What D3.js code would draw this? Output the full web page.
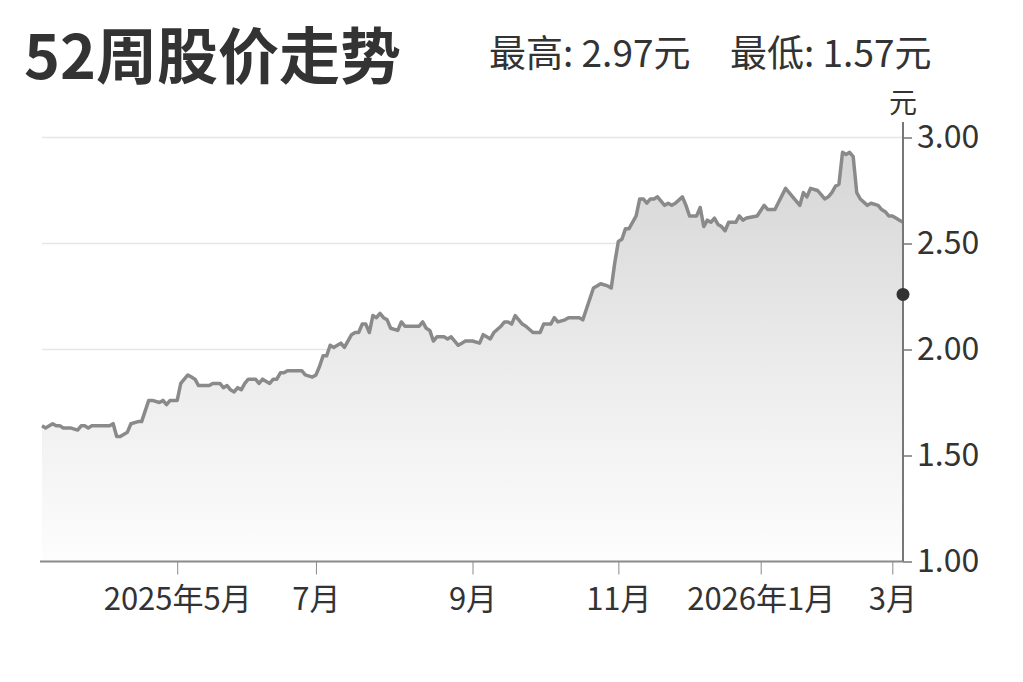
<!DOCTYPE html>
<html>
<head>
<meta charset="utf-8">
<script src="https://cdn.jsdelivr.net/npm/d3@7/dist/d3.min.js"></script>
<style>
  body { margin: 0; background: #fff; }
  svg { display: block; font-family: "Noto Sans CJK SC", "Noto Sans", sans-serif; }
</style>
</head>
<body>
<div class="chart"></div>
<script>
// trading day index (0 = first day of the 52 week window) and close price
var tradingDay = [0, 1, 3, 4, 5, 6, 8, 10, 11, 12, 13, 14, 19, 20, 21, 22, 24, 25, 27, 28,
  30, 31, 33, 34, 35, 36, 38, 39, 41, 42, 43, 44, 45, 47, 48, 50, 51, 52, 53, 54,
  55, 56, 57, 58, 60, 61, 62, 64, 65, 66, 67, 68, 69, 73, 74, 76, 77, 78, 79, 80,
  81, 82, 83, 84, 85, 87, 88, 89, 90, 91, 92, 93, 94, 95, 96, 97, 98, 100, 101, 102,
  106, 107, 108, 109, 110, 111, 113, 114, 115, 117, 118, 119, 120, 121, 123, 124, 125, 126, 127, 129,
  130, 131, 132, 133, 135, 136, 138, 140, 141, 143, 144, 145, 147, 148, 151, 152, 153, 155, 156, 157,
  159, 160, 161, 162, 163, 164, 165, 167, 168, 169, 170, 171, 172, 173, 174, 175, 176, 177, 178, 180,
  181, 182, 184, 185, 186, 187, 188, 189, 190, 191, 192, 193, 195, 196, 197, 198, 201, 203, 204, 206,
  209, 210, 211, 213, 214, 215, 216, 218, 219, 220, 221, 222, 223, 224, 225, 226, 227, 228, 229, 230,
  232, 233, 235, 236, 237, 238, 239, 240, 241, 242];

var closePrice = [1.64, 1.63, 1.65, 1.64, 1.64, 1.63, 1.63, 1.62, 1.64, 1.64, 1.63, 1.64, 1.64, 1.65, 1.59, 1.59, 1.61, 1.65, 1.66, 1.66,
  1.76, 1.76, 1.75, 1.76, 1.74, 1.76, 1.76, 1.84, 1.88, 1.87, 1.86, 1.83, 1.83, 1.83, 1.84, 1.84, 1.82, 1.83, 1.81, 1.80,
  1.82, 1.81, 1.84, 1.86, 1.86, 1.84, 1.86, 1.84, 1.86, 1.86, 1.89, 1.89, 1.90, 1.90, 1.88, 1.87, 1.88, 1.92, 1.97, 1.97,
  2.02, 2.01, 2.02, 2.03, 2.01, 2.07, 2.08, 2.08, 2.12, 2.12, 2.08, 2.16, 2.15, 2.17, 2.15, 2.14, 2.10, 2.09, 2.13, 2.11,
  2.11, 2.13, 2.10, 2.09, 2.04, 2.06, 2.06, 2.05, 2.06, 2.02, 2.03, 2.04, 2.04, 2.04, 2.03, 2.07, 2.06, 2.05, 2.08, 2.11,
  2.13, 2.13, 2.12, 2.16, 2.12, 2.11, 2.08, 2.08, 2.12, 2.12, 2.15, 2.13, 2.14, 2.15, 2.15, 2.14, 2.19, 2.29, 2.30, 2.31,
  2.30, 2.29, 2.41, 2.51, 2.52, 2.57, 2.57, 2.63, 2.71, 2.71, 2.69, 2.71, 2.71, 2.72, 2.70, 2.68, 2.69, 2.68, 2.69, 2.72,
  2.68, 2.63, 2.63, 2.67, 2.58, 2.61, 2.60, 2.62, 2.59, 2.58, 2.56, 2.60, 2.60, 2.63, 2.61, 2.62, 2.63, 2.68, 2.66, 2.66,
  2.76, 2.74, 2.72, 2.68, 2.74, 2.72, 2.76, 2.75, 2.73, 2.71, 2.72, 2.74, 2.77, 2.78, 2.93, 2.92, 2.93, 2.91, 2.74, 2.71,
  2.68, 2.69, 2.68, 2.66, 2.65, 2.63, 2.63, 2.62, 2.61, 2.60];

// month ticks on the trading day axis
var tickDays = [38, 77, 121, 162, 202, 239];
var tickLabels = ["2025年5月", "7月", "9月", "11月", "2026年1月", "3月"];

var priceTicks = [1.00, 1.50, 2.00, 2.50, 3.00];
var markerPrice = 2.26;

var titleText = "52周股价走势";
var highText = "最高: 2.97元";
var lowText = "最低: 1.57元";
var unitText = "元";

/********************************************/
var svgWidth = 1023;
var svgHeight = 682;

var svg = d3.select(".chart")
  .append("svg")
  .attr("width", svgWidth)
  .attr("height", svgHeight);

var data = tradingDay.map(function (d, i) {
  return { day: d, price: closePrice[i] };
});

var xScale = d3.scaleLinear()
  .domain([0, 242])
  .range([42, 903]);

var yScale = d3.scaleLinear()
  .domain([1, 3])
  .range([561.5, 137.5]);

/*************GRADIENT FILL******************/
var defs = svg.append("defs");
var grad = defs.append("linearGradient")
  .attr("id", "areaFill")
  .attr("gradientUnits", "userSpaceOnUse")
  .attr("x1", 0).attr("x2", 0)
  .attr("y1", yScale(3)).attr("y2", yScale(1));
grad.append("stop").attr("offset", "0%").attr("stop-color", "#d4d4d4");
grad.append("stop").attr("offset", "55%").attr("stop-color", "#ececec");
grad.append("stop").attr("offset", "100%").attr("stop-color", "#fdfdfd");

/*************GRIDLINES**********************/
svg.append("g")
  .selectAll("line")
  .data(priceTicks.slice(1))
  .enter()
  .append("line")
  .attr("x1", xScale(0))
  .attr("x2", xScale(242))
  .attr("y1", d => yScale(d))
  .attr("y2", d => yScale(d))
  .attr("stroke", "#e6e6e6")
  .attr("stroke-width", 1.5);

/*************AREA + LINE********************/
var area = d3.area()
  .x(d => xScale(d.day))
  .y0(yScale(1))
  .y1(d => yScale(d.price));

var line = d3.line()
  .x(d => xScale(d.day))
  .y(d => yScale(d.price));

svg.append("path")
  .datum(data)
  .attr("d", area)
  .attr("fill", "url(#areaFill)");

svg.append("path")
  .datum(data)
  .attr("d", line)
  .attr("fill", "none")
  .attr("stroke", "#8a8a8a")
  .attr("stroke-width", 3.5)
  .attr("stroke-linejoin", "round");

/*************AXES***************************/
var xAxis = d3.axisBottom(xScale)
  .tickValues(tickDays)
  .tickFormat((d, i) => tickLabels[i])
  .tickSize(13)
  .tickPadding(13);

var xAxisGroup = svg.append("g")
  .attr("transform", `translate(0, ${yScale(1)})`)
  .call(xAxis);
xAxisGroup.select(".domain").remove();
xAxisGroup.selectAll(".tick line").attr("stroke", "#8a8a8a").attr("stroke-width", 1);
xAxisGroup.selectAll(".tick text")
  .attr("fill", "#333")
  .style("font-size", "31px")
  .style("font-family", "\"Noto Sans CJK SC\", sans-serif");

svg.append("line")
  .attr("x1", 40)
  .attr("x2", xScale(242))
  .attr("y1", yScale(1))
  .attr("y2", yScale(1))
  .attr("stroke", "#8a8a8a")
  .attr("stroke-width", 2);

var yAxis = d3.axisRight(yScale)
  .tickValues(priceTicks)
  .tickFormat(d3.format(".2f"))
  .tickSize(9)
  .tickPadding(5);

var yAxisGroup = svg.append("g")
  .attr("transform", `translate(${xScale(242)}, 0)`)
  .call(yAxis);
yAxisGroup.select(".domain").remove();
yAxisGroup.selectAll(".tick line").attr("stroke", "#777").attr("stroke-width", 1.5);
yAxisGroup.selectAll(".tick text")
  .attr("fill", "#333")
  .style("font-size", "32px")
  .style("font-family", "\"Noto Sans CJK SC\", sans-serif");

svg.append("line")
  .attr("x1", xScale(242))
  .attr("x2", xScale(242))
  .attr("y1", 122)
  .attr("y2", yScale(1))
  .attr("stroke", "#777")
  .attr("stroke-width", 2);

/*************MARKER DOT*********************/
svg.append("circle")
  .attr("cx", xScale(242))
  .attr("cy", yScale(markerPrice))
  .attr("r", 6.5)
  .attr("fill", "#333");

/*************TEXTS**************************/
svg.append("text")
  .attr("x", 24)
  .attr("y", 79)
  .attr("fill", "#333")
  .style("font-size", "61px")
  .style("font-weight", "bold")
  .text(titleText);

svg.append("text")
  .attr("x", 489)
  .attr("y", 67)
  .attr("fill", "#333")
  .style("font-size", "37px")
  .text(highText);

svg.append("text")
  .attr("x", 730)
  .attr("y", 67)
  .attr("fill", "#333")
  .style("font-size", "37px")
  .text(lowText);

svg.append("text")
  .attr("x", 903)
  .attr("y", 113)
  .attr("text-anchor", "middle")
  .attr("fill", "#333")
  .style("font-size", "28px")
  .text(unitText);
</script>
</body>
</html>
